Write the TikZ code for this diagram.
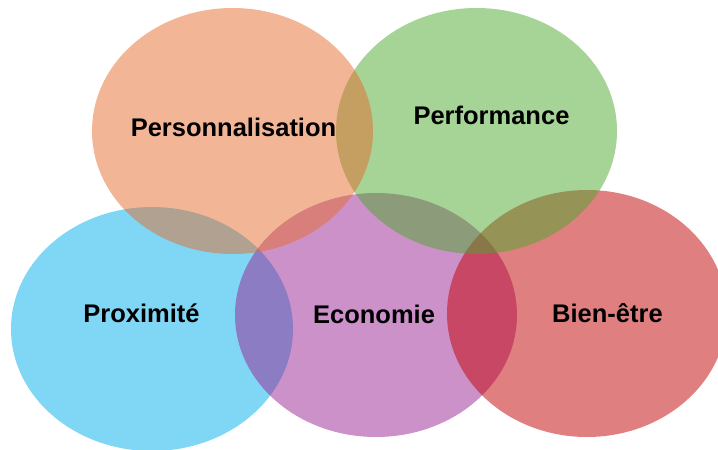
\documentclass[tikz,border=0pt]{standalone}
\usepackage{fontspec}
\setmainfont{Liberation Sans}
\definecolor{cOrange}{RGB}{229,109,47}
\definecolor{cGreen}{RGB}{77,167,45}
\definecolor{cBlue}{RGB}{0,173,235}
\definecolor{cPurple}{RGB}{153,35,147}
\definecolor{cRed}{RGB}{194,0,0}
\tikzset{
  blob/.style={fill opacity=0.5},
  lbl/.style={anchor=base, inner sep=0pt, text=black,
    font=\bfseries\fontsize{25.5}{30}\selectfont}
}
\begin{document}
\begin{tikzpicture}[x=1pt,y=1pt]
\useasboundingbox (0,0) rectangle (718,450);
% drawing order: blue, purple, red, green, orange
\fill[blob, cBlue]   (152,121)   ellipse [x radius=141, y radius=122];
\fill[blob, cPurple] (376,135)   ellipse [x radius=141, y radius=122];
\fill[blob, cRed]    (587,136.5) ellipse [x radius=140, y radius=123.5];
\fill[blob, cGreen]  (476.5,319) ellipse [x radius=140.5, y radius=123];
\fill[blob, cOrange] (232.5,319) ellipse [x radius=140.5, y radius=123];
\node[lbl] (pers) at (233.5,313) {Personnalisation};
\node[lbl] (perf) at (491.5,325) {Performance};
\node[lbl] (prox) at (141.5,127) {Proximité};
\node[lbl] (eco)  at (374,126)   {Economie};
\node[lbl] (bien) at (607.5,127) {Bien-être};
\end{tikzpicture}
\end{document}
